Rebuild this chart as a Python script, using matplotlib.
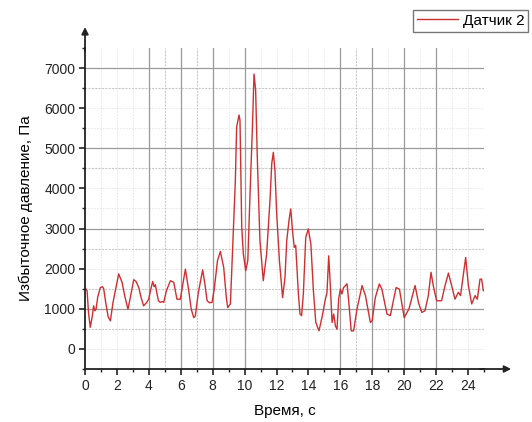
import matplotlib
matplotlib.use("Agg")
import matplotlib.pyplot as plt
from matplotlib.ticker import MultipleLocator

plt.rcParams["font.family"] = ["Liberation Sans", "DejaVu Sans"]

# time, s
TIME = [
    0.00, 0.13, 0.22, 0.33, 0.45, 0.54, 0.62, 0.69, 0.80, 0.96, 1.10, 1.17, 1.30, 1.45,
    1.59, 1.75, 1.95, 2.11, 2.32, 2.50, 2.69, 2.85, 3.05, 3.20, 3.37, 3.50, 3.67, 3.85,
    3.99, 4.10, 4.24, 4.33, 4.41, 4.50, 4.60, 4.72, 4.85, 4.93, 5.10, 5.35, 5.56, 5.76,
    5.97, 6.10, 6.29, 6.50, 6.65, 6.81, 6.91, 7.10, 7.37, 7.50, 7.65, 7.80, 7.96, 8.10,
    8.30, 8.48, 8.69, 8.85, 8.94, 9.11, 9.25, 9.42, 9.50, 9.65, 9.71, 9.82, 9.92, 10.07,
    10.20, 10.34, 10.49, 10.59, 10.69, 10.80, 10.96, 11.17, 11.38, 11.59, 11.70, 11.80,
    11.90, 12.01, 12.18, 12.38, 12.53, 12.64, 12.78, 12.89, 13.00, 13.11, 13.20, 13.37,
    13.47, 13.57, 13.68, 13.83, 13.99, 14.15, 14.31, 14.46, 14.66, 14.87, 15.06, 15.16,
    15.27, 15.37, 15.48, 15.58, 15.69, 15.79, 15.89, 16.00, 16.10, 16.20, 16.42, 16.52,
    16.68, 16.83, 17.04, 17.36, 17.57, 17.88, 17.99, 18.19, 18.44, 18.60, 18.92, 19.13,
    19.49, 19.70, 20.00, 20.30, 20.68, 20.89, 21.10, 21.30, 21.51, 21.68, 21.82, 22.03,
    22.34, 22.56, 22.77, 22.97, 23.18, 23.39, 23.53, 23.70, 23.85, 24.02, 24.23, 24.44,
    24.58, 24.75, 24.85, 24.96,
]
# overpressure, Pa (sensor 2)
PRESSURE = [
    1530, 1450, 900, 540, 800, 1075, 950, 990, 1300, 1530, 1550, 1500, 1150, 800,
    700, 1150, 1550, 1870, 1660, 1300, 990, 1300, 1725, 1680, 1530, 1300, 1075, 1150,
    1240, 1450, 1680, 1550, 1600, 1400, 1200, 1160, 1180, 1160, 1450, 1700, 1660, 1240,
    1240, 1550, 1990, 1450, 1000, 780, 820, 1400, 1970, 1650, 1200, 1150, 1160, 1500,
    2200, 2430, 2030, 1300, 1030, 1120, 2530, 4200, 5530, 5830, 5700, 3030, 2370, 1950,
    2200, 3870, 5530, 6850, 6450, 4700, 2700, 1700, 2370, 3700, 4620, 4900,
    4450, 3370, 2200, 1280, 1780, 2700, 3200, 3490, 2950, 2530, 2580, 1370,
    870, 830, 1370, 2780, 2990, 2620, 1450, 660, 450, 830, 1240, 1400,
    2320, 1580, 660, 870, 575, 490, 1240, 1490, 1370, 1530, 1620, 1200,
    450, 450, 990, 1580, 1330, 660, 700, 1280, 1620, 1490, 870, 830,
    1530, 1490, 780, 1000, 1580, 1160, 910, 950, 1330, 1910, 1580, 1200,
    1200, 1580, 1890, 1580, 1240, 1410, 1330, 1830, 2280, 1580, 1120, 1330,
    1240, 1740, 1740, 1450,
]

RED = "#cf2f2f"
GRID_DARK = "#9a9a9a"
GRID_MID = "#c4c4c4"
GRID_LIGHT = "#e6e6e6"

fig = plt.figure(figsize=(5.32, 4.22), dpi=100)
ax = fig.add_axes([0.1598, 0.1256, 0.75, 0.7607])

ax.set_xlim(0, 25)
ax.set_ylim(-500, 7500)

# very faint grid everywhere, stronger lines where the scan keeps them
dots = (0, (1.5, 1.5))
for x in range(1, 25):
    ax.axvline(x, color=GRID_LIGHT, lw=0.7, ls=dots, zorder=0)
for y in range(0, 7500, 500):
    ax.axhline(y, color=GRID_LIGHT, lw=0.7, ls=dots, zorder=0)
for x in [5, 7, 17]:
    ax.axvline(x, color=GRID_MID, lw=0.8, ls=dots, zorder=0)
for y in [500, 1500, 2500, 4500, 6500]:
    ax.axhline(y, color=GRID_MID, lw=0.8, ls=dots, zorder=0)
for x in [4, 6, 8, 10, 16, 18, 20, 22]:
    ax.axvline(x, color=GRID_DARK, lw=0.9, zorder=0)
for y in [1000, 3000, 5000, 7000]:
    ax.axhline(y, color=GRID_DARK, lw=0.9, zorder=0)

ax.plot(TIME, PRESSURE, color=RED, lw=1.0, label="Датчик 2")

for s in ["top", "right"]:
    ax.spines[s].set_visible(False)
for s in ["left", "bottom"]:
    ax.spines[s].set_linewidth(1.3)
    ax.spines[s].set_color("#222222")

ax.annotate("", xy=(1.068, 0), xytext=(0.99, 0), xycoords="axes fraction",
            arrowprops=dict(arrowstyle="-|>", color="#222222", lw=1.3,
                            mutation_scale=10, shrinkA=0, shrinkB=0),
            annotation_clip=False)
ax.annotate("", xy=(0, 1.065), xytext=(0, 0.99), xycoords="axes fraction",
            arrowprops=dict(arrowstyle="-|>", color="#222222", lw=1.3,
                            mutation_scale=10, shrinkA=0, shrinkB=0),
            annotation_clip=False)

ax.xaxis.set_major_locator(MultipleLocator(2))
ax.xaxis.set_minor_locator(MultipleLocator(1))
ax.yaxis.set_major_locator(MultipleLocator(1000))
ax.yaxis.set_minor_locator(MultipleLocator(500))
ax.set_yticks(range(0, 7001, 1000))
ax.tick_params(which="major", direction="out", length=4, width=1.2,
               labelsize=10, colors="#222222", pad=3)
ax.tick_params(which="minor", direction="out", length=2.5, width=1.0,
               colors="#222222")

ax.set_xlabel("Время, с", fontsize=11, labelpad=8)
ax.set_ylabel("Избыточное давление, Па", fontsize=11, labelpad=8)

fig.legend(loc="upper right", bbox_to_anchor=(528 / 532, 1 - 10 / 422),
           fontsize=11, frameon=True, fancybox=False, edgecolor="#555555",
           handlelength=2.7, borderaxespad=0, borderpad=0.25,
           handletextpad=0.3)

fig.savefig("out.png", dpi=100)
